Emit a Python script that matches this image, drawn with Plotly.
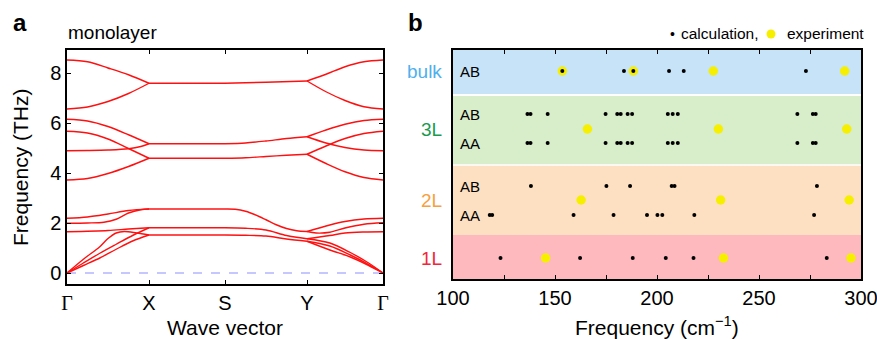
import plotly.graph_objects as go

# ---------------- Panel a: phonon dispersion of monolayer ----------------
K_POS = [0, 82, 158, 240, 316]           # Γ, X, S, Y, Γ along the path
K_LABELS = ['Γ', 'X', 'S', 'Y', 'Γ']
FREQ_TICKS = [0, 2, 4, 6, 8]

# Each band piece: (fractions along the segment, frequencies in THz)
GX_BANDS = [
    ([0, .25, .5, .75, 1], [8.52, 8.45, 8.2, 7.93, 7.59]),
    ([0, .25, .5, .75, 1], [6.56, 6.64, 6.86, 7.18, 7.59]),
    ([0, .25, .5, .75, 1], [6.15, 6.08, 5.86, 5.53, 5.17]),
    ([0, .25, .5, .75, 1], [5.67, 5.6, 5.36, 4.98, 4.59]),
    ([0, .25, .5, .75, .9, 1], [4.89, 4.9, 4.92, 4.97, 5.06, 5.17]),
    ([0, .25, .5, .75, 1], [3.72, 3.78, 3.98, 4.26, 4.59]),
    ([0, .25, .5, .75, 1], [2.19, 2.24, 2.36, 2.5, 2.56]),
    ([0, .25, .45, .6, .75, .9, 1], [1.99, 2.0, 2.03, 2.15, 2.4, 2.53, 2.56]),
    ([0, .5, .75, 1], [1.65, 1.7, 1.76, 1.81]),
    ([0, .2, .4, .5, .6, .7, .85, 1], [0, .55, 1.05, 1.38, 1.6, 1.66, 1.6, 1.52]),
    ([0, .2, .4, .6, .8, 1], [0, .4, .79, 1.15, 1.5, 1.81]),
    ([0, .2, .4, .6, .8, 1], [0, .3, .6, .95, 1.28, 1.52]),
]
XS_BANDS = [
    ([0, 1], [7.59, 7.59]),
    ([0, 1], [5.17, 5.17]),
    ([0, 1], [4.59, 4.59]),
    ([0, 1], [2.56, 2.56]),
    ([0, 1], [1.81, 1.81]),
    ([0, 1], [1.52, 1.52]),
]
SY_BANDS = [
    ([0, .5, 1], [7.59, 7.63, 7.68]),
    ([0, .25, .5, .75, 1], [5.17, 5.2, 5.28, 5.38, 5.45]),
    ([0, .25, .5, .75, 1], [4.59, 4.61, 4.66, 4.71, 4.75]),
    ([0, .125, .25, .375, .5, .625, .75, .875, 1],
     [2.56, 2.55, 2.47, 2.32, 2.13, 1.93, 1.78, 1.69, 1.66]),
    ([0, .25, .5, .75, 1], [1.81, 1.79, 1.72, 1.5, 1.37]),
    ([0, .25, .5, .75, 1], [1.52, 1.51, 1.48, 1.36, 1.27]),
]
YG_BANDS = [
    ([0, .25, .5, .75, 1], [7.68, 7.95, 8.25, 8.45, 8.52]),
    ([0, .25, .5, .75, 1], [7.68, 7.25, 6.9, 6.65, 6.56]),
    ([0, .25, .5, .75, 1], [5.45, 5.72, 5.95, 6.1, 6.15]),
    ([0, .25, .5, .75, 1], [5.45, 5.2, 5.02, 4.92, 4.89]),
    ([0, .25, .5, .75, 1], [4.75, 5.08, 5.38, 5.58, 5.67]),
    ([0, .25, .5, .75, 1], [4.75, 4.38, 4.05, 3.82, 3.72]),
    ([0, .3, .5, .75, 1], [1.66, 1.92, 2.06, 2.16, 2.19]),
    ([0, .12, .3, .5, .75, 1], [1.66, 1.6, 1.63, 1.8, 1.95, 2.01]),
    ([0, .3, .5, .75, 1], [1.37, 1.5, 1.6, 1.64, 1.65]),
    ([0, .3, .57, .8, 1], [1.37, 1.2, 0.82, 0.42, 0]),
    ([0, .3, .57, .8, 1], [1.27, 1.08, 0.72, 0.36, 0]),
    ([0, .3, .57, .8, 1], [1.27, 0.92, 0.64, 0.32, 0]),
]
SEGMENTS = [GX_BANDS, XS_BANDS, SY_BANDS, YG_BANDS]

# ---------------- Panel b: Raman frequencies ----------------
FREQ_B_TICKS = [100, 150, 200, 250, 300]
FREQ_B_MINOR_STEP = 25

bulk_AB_calc = [153.6, 183.8, 188.4, 205.9, 213.1, 273.0]
L3_AB_calc = [136.5, 138.0, 146.4, 174.8, 180.5, 182.2, 185.6, 187.8,
              205.3, 207.7, 210.2, 268.8, 276.4, 277.8]
L3_AA_calc = [136.5, 138.0, 146.4, 174.8, 180.5, 182.2, 185.6, 187.8,
              205.3, 207.7, 210.2, 268.8, 276.4, 277.8]
L2_AB_calc = [138.2, 175.2, 186.8, 207.2, 208.6, 278.4]
L2_AA_calc = [118.0, 119.2, 159.1, 178.7, 195.1, 200.2, 202.6, 218.3, 277.0]
L1_calc = [123.3, 162.3, 188.1, 204.3, 217.9, 283.2]

bulk_exp = [153.6, 188.4, 227.6, 292.0]
L3_exp = [165.9, 230.1, 293.0]
L2_exp = [162.8, 231.2, 294.2]
L1_exp = [145.4, 232.6, 295.1]

# row levels (vertical positions, arbitrary units)
ROW = {'bulk_AB': 208, 'L3_AB': 165, 'L3_exp': 150, 'L3_AA': 136,
       'L2_AB': 93, 'L2_exp': 79, 'L2_AA': 64, 'L1': 21}
BANDS_B = [  # (bottom, top, color)
    (0, 44, '#fdb9be'),
    (44, 113.3, '#fde0c2'),
    (114.7, 183, '#d8edc9'),
    (185, 229, '#c6e3f7'),
]
LAYER_LABELS = [('bulk', 208, '#4fb0ee'), ('3L', 150, '#1b9a4e'),
                ('2L', 79, '#f7a040'), ('1L', 21, '#f2263a')]
STACK_LABELS = [('AB', 208), ('AB', 165), ('AA', 136), ('AB', 93), ('AA', 64)]

FONT = 'Liberation Sans, Arial, sans-serif'
W, H = 877, 339


def px(x):
    return x / W


def py(y):
    return 1 - y / H


fig = go.Figure()

# panel a traces
for si, seg in enumerate(SEGMENTS):
    k0, k1 = K_POS[si], K_POS[si + 1]
    for ts, fs in seg:
        fig.add_trace(go.Scatter(
            x=[k0 + t * (k1 - k0) for t in ts], y=fs, mode='lines',
            line=dict(color='#ff1010', width=1.4, shape='spline', smoothing=0.9),
            xaxis='x', yaxis='y', showlegend=False, hoverinfo='skip'))

# panel b traces: experiments (yellow) then calculations (black)
exp_sets = [(bulk_exp, ROW['bulk_AB']), (L3_exp, ROW['L3_exp']),
            (L2_exp, ROW['L2_exp']), (L1_exp, ROW['L1'])]
for vals, yv in exp_sets:
    fig.add_trace(go.Scatter(x=vals, y=[yv] * len(vals), mode='markers',
                             marker=dict(color='#f7ef00', size=9.5, line=dict(width=0)),
                             xaxis='x2', yaxis='y2', showlegend=False, cliponaxis=False))
calc_sets = [(bulk_AB_calc, ROW['bulk_AB']), (L3_AB_calc, ROW['L3_AB']),
             (L3_AA_calc, ROW['L3_AA']), (L2_AB_calc, ROW['L2_AB']),
             (L2_AA_calc, ROW['L2_AA']), (L1_calc, ROW['L1'])]
for vals, yv in calc_sets:
    fig.add_trace(go.Scatter(x=vals, y=[yv] * len(vals), mode='markers',
                             marker=dict(color='black', size=4, line=dict(width=0)),
                             xaxis='x2', yaxis='y2', showlegend=False))

shapes = []
# zero line in panel a
shapes.append(dict(type='line', xref='x', yref='y', x0=K_POS[0], x1=K_POS[-1], y0=0, y1=0,
                   line=dict(color='#8f8fff', width=1, dash='dash'), layer='below'))
for b0, b1, c in BANDS_B:
    shapes.append(dict(type='rect', xref='x2', yref='y2', x0=100, x1=300, y0=b0, y1=b1,
                       fillcolor=c, line=dict(width=0), layer='below'))
# legend yellow circle
shapes.append(dict(type='circle', xref='paper', yref='paper',
                   x0=px(766.5), x1=px(775.5), y0=py(38.5), y1=py(29.5),
                   fillcolor='#f7ef00', line=dict(width=0)))

ann = []
ann.append(dict(text='<b>a</b>', x=px(11), y=py(22), xanchor='left', yanchor='middle',
                font=dict(size=24, family=FONT, color='black')))
ann.append(dict(text='<b>b</b>', x=px(406), y=py(22), xanchor='left', yanchor='middle',
                font=dict(size=24, family=FONT, color='black')))
ann.append(dict(text='monolayer', x=px(66), y=py(32), xanchor='left', yanchor='middle',
                font=dict(size=19, family=FONT, color='black')))
ann.append(dict(text='Wave vector', x=px(225), y=py(327), xanchor='center', yanchor='middle',
                font=dict(size=21, family=FONT, color='black')))
ann.append(dict(text='Frequency (THz)', x=px(21), y=py(167), xanchor='center', yanchor='middle',
                textangle=-90, font=dict(size=21, family=FONT, color='black')))
ann.append(dict(text='Frequency (cm<sup>−1</sup>)', x=px(657), y=py(326), xanchor='center',
                yanchor='middle', font=dict(size=21, family=FONT, color='black')))
ann.append(dict(text='•', x=px(672.5), y=py(34), xanchor='center', yanchor='middle',
                font=dict(size=14, family=FONT, color='black')))
ann.append(dict(text='calculation,', x=px(679), y=py(34), xanchor='left', yanchor='middle',
                font=dict(size=15.5, family=FONT, color='black')))
ann.append(dict(text='experiment', x=px(785), y=py(34), xanchor='left', yanchor='middle',
                font=dict(size=15.5, family=FONT, color='black')))
for txt, yv, c in LAYER_LABELS:
    ann.append(dict(text=txt, x=px(444), y=yv, xref='paper', yref='y2', xanchor='right',
                    yanchor='middle', font=dict(size=19, family=FONT, color=c)))
for txt, yv in STACK_LABELS:
    ann.append(dict(text=txt, x=102.4, y=yv, xref='x2', yref='y2', xanchor='left',
                    yanchor='middle', font=dict(size=15, family=FONT, color='black')))
for a in ann:
    a.setdefault('xref', 'paper')
    a.setdefault('yref', 'paper')
    a['showarrow'] = False

axis_common = dict(showline=True, linecolor='black', linewidth=1.5, mirror='ticks',
                   ticks='inside', ticklen=4, tickwidth=1, tickcolor='black',
                   showgrid=False, zeroline=False, automargin=False,
                   ticklabeloverflow='allow',
                   tickfont=dict(size=20, family=FONT, color='black'))

k_text = [('<span style="font-family:Liberation Serif">%s</span>' % s) if s == 'Γ' else s
          for s in K_LABELS]

fig.update_layout(
    width=W, height=H, margin=dict(l=0, r=0, t=0, b=0),
    paper_bgcolor='white', plot_bgcolor='white',
    xaxis=dict(domain=[px(67), px(383)], range=[K_POS[0], K_POS[-1]],
               tickvals=K_POS, ticktext=k_text, anchor='y', **axis_common),
    yaxis=dict(domain=[py(284), py(50)], range=[-0.44, 8.92], tickvals=FREQ_TICKS,
               anchor='x', **axis_common),
    xaxis2=dict(domain=[px(453), px(861)], range=[100, 300], tickvals=FREQ_B_TICKS,
                minor=dict(dtick=FREQ_B_MINOR_STEP, tick0=100, ticks='inside', ticklen=4,
                           tickwidth=1, tickcolor='black', showgrid=False),
                anchor='y2', **axis_common),
    yaxis2=dict(domain=[py(279), py(50)], range=[0, 229], anchor='x2',
                showline=True, linecolor='black', linewidth=1.5, mirror=True,
                ticks='', showticklabels=False, showgrid=False, zeroline=False,
                automargin=False),
    shapes=shapes, annotations=ann,
)

fig.write_html('out.html', config={'displayModeBar': False},
               post_script="document.body.style.margin='0';"
                           "document.body.style.overflow='hidden';")
